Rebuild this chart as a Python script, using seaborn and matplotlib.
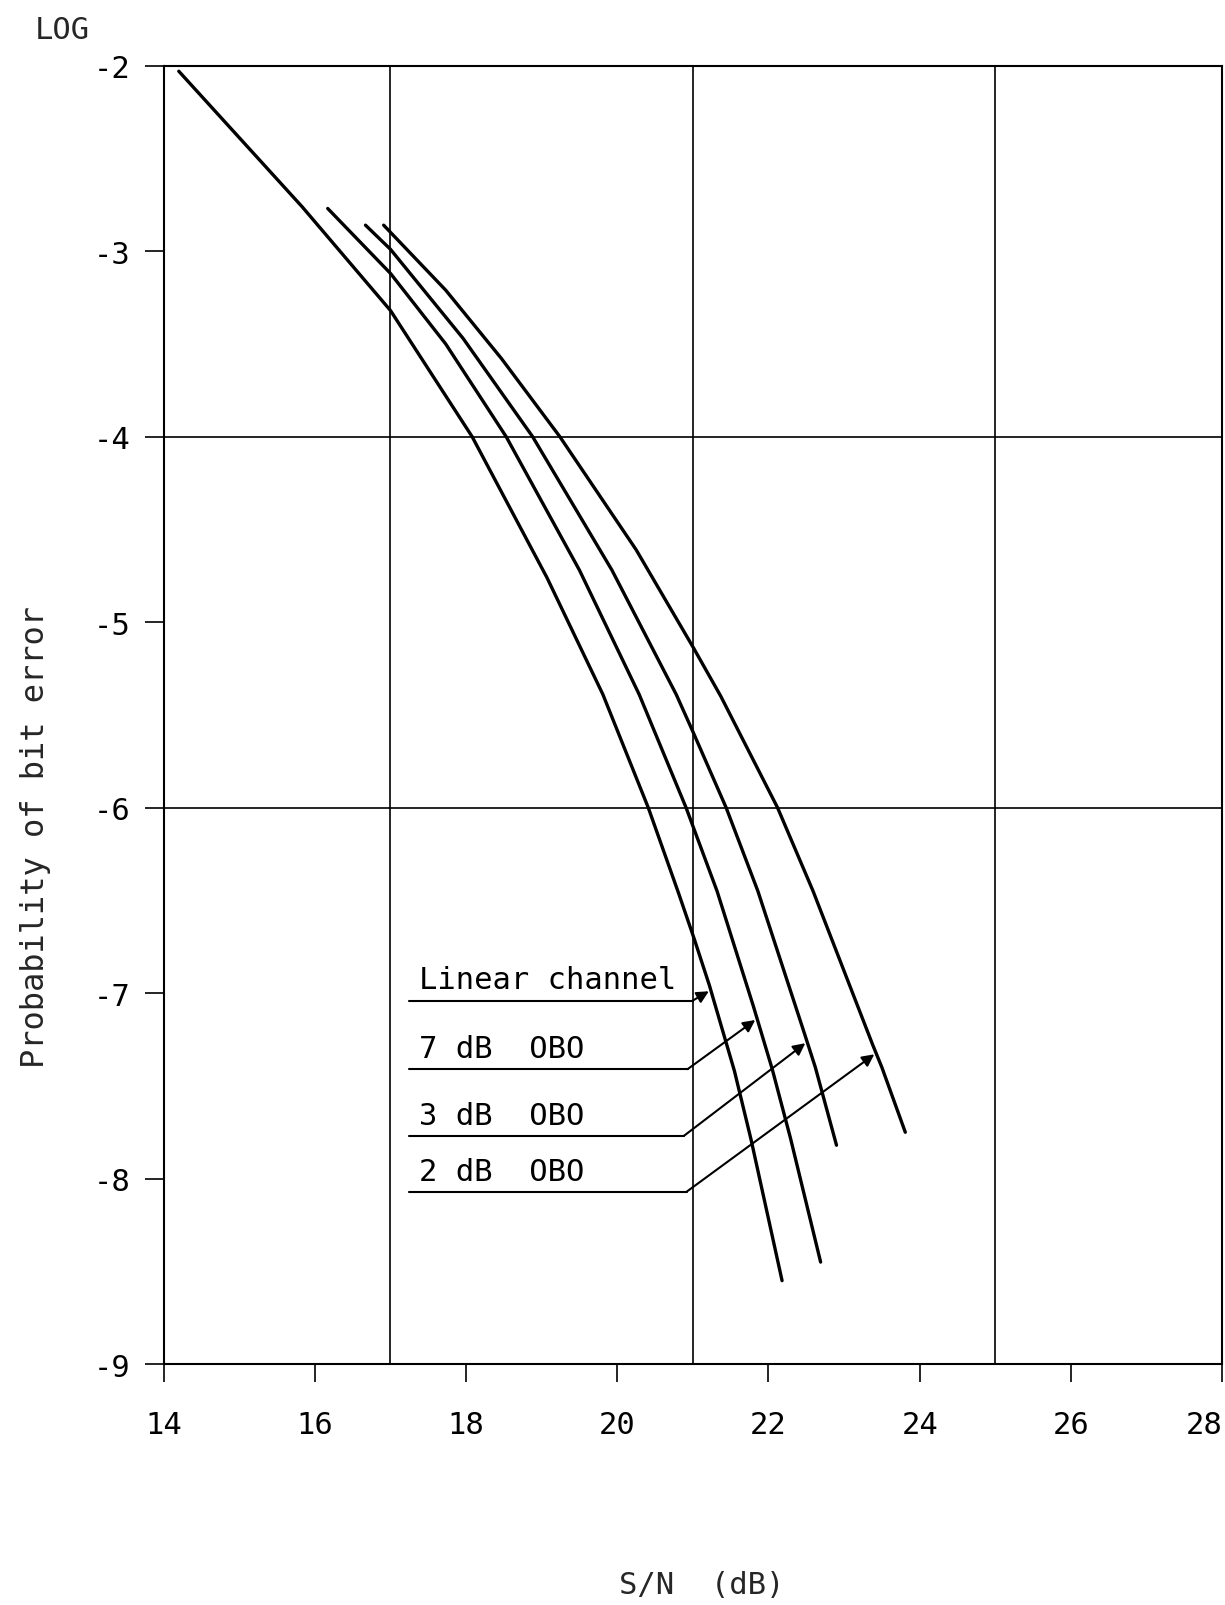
import numpy as np
import pandas as pd
import matplotlib
matplotlib.use("Agg")
import matplotlib.pyplot as plt
import seaborn as sns

# ---------------- data ----------------
sn_linear = [14.2, 15.83, 17.0, 18.08, 19.07, 19.81, 20.41, 20.81, 21.02, 21.22, 21.55, 21.77, 22.18]
ber_linear = [-2.03, -2.76, -3.32, -4.0, -4.76, -5.39, -6.0, -6.46, -6.71, -6.96, -7.42, -7.79, -8.55]

sn_7db = [16.17, 17.0, 17.73, 18.53, 19.50, 20.29, 20.91, 21.32, 21.80, 22.05, 22.29, 22.69]
ber_7db = [-2.77, -3.12, -3.50, -4.0, -4.72, -5.39, -6.0, -6.45, -7.07, -7.41, -7.78, -8.45]

sn_3db = [16.67, 17.0, 17.96, 18.88, 19.93, 20.78, 21.0, 21.44, 21.86, 22.47, 22.62, 22.90]
ber_3db = [-2.86, -2.99, -3.47, -4.0, -4.72, -5.39, -5.59, -6.0, -6.45, -7.21, -7.40, -7.82]

sn_2db = [16.91, 17.73, 18.47, 19.24, 20.25, 21.01, 21.37, 22.12, 22.59, 23.38, 23.50, 23.81]
ber_2db = [-2.86, -3.21, -3.58, -4.0, -4.61, -5.14, -5.40, -6.0, -6.45, -7.28, -7.40, -7.75]

curve_names = ["Linear channel", "7 dB  OBO", "3 dB  OBO", "2 dB  OBO"]
x_ticks = [14, 16, 18, 20, 22, 24, 26, 28]
x_tick_labels = ["14", "16", "18", "20", "22", "24", "26", "28"]
y_ticks = [-2, -3, -4, -5, -6, -7, -8, -9]
y_tick_labels = ["-2", "-3", "-4", "-5", "-6", "-7", "-8", "-9"]
x_grid = [17, 21, 25]
y_grid = [-4, -6]

# ---------------- frame ----------------
frames = []
for name, xs, ys in zip(curve_names,
                        [sn_linear, sn_7db, sn_3db, sn_2db],
                        [ber_linear, ber_7db, ber_3db, ber_2db]):
    frames.append(pd.DataFrame({"sn": xs, "ber": ys, "curve": name}))
df = pd.concat(frames, ignore_index=True)

sns.set_style("white")
plt.rcParams["font.family"] = ["DejaVu Sans Mono", "DejaVu Sans"]
plt.rcParams["axes.unicode_minus"] = False

fig = plt.figure(figsize=(12.25, 16.06), dpi=100)
ax = fig.add_axes([0.1336, 0.150, 0.8640, 0.8085])

sns.lineplot(data=df, x="sn", y="ber", hue="curve", units="curve",
             estimator=None, sort=False, palette=["black"] * 4,
             linewidth=2.4, legend=False, ax=ax)
for ln in ax.get_lines():
    ln.set_solid_joinstyle("round")
    ln.set_solid_capstyle("round")

for gx in x_grid:
    ax.axvline(gx, color="black", lw=1.2, zorder=1)
for gy in y_grid:
    ax.axhline(gy, color="black", lw=1.2, zorder=1)

ax.set_xlim(14, 28)
ax.set_ylim(-9, -2)
ax.set_xticks(x_ticks)
ax.set_xticklabels(x_tick_labels, fontsize=22)
ax.set_yticks(y_ticks)
ax.set_yticklabels(y_tick_labels, fontsize=22)
ax.xaxis.get_ticklabels()[-1].set_horizontalalignment("right")
ax.tick_params(axis="x", direction="out", length=13, width=1.2, pad=20,
               bottom=True, colors="black")
ax.tick_params(axis="y", direction="out", length=14, width=1.2, pad=10,
               left=True, colors="black")
ax.set_xlabel("")
ax.set_ylabel("")
for s in ax.spines.values():
    s.set_visible(True)
    s.set_color("black")
    s.set_linewidth(1.5)

# ---------------- legend leaders ----------------
curve_data = [(sn_linear, ber_linear), (sn_7db, ber_7db),
              (sn_3db, ber_3db), (sn_2db, ber_2db)]
underline_y = [-7.04, -7.41, -7.77, -8.07]
underline_x0 = 17.25
underline_x1 = [21.0, 20.93, 20.88, 20.92]
tip_y = [-6.99, -7.145, -7.27, -7.33]
for name, (xs, ys), uy, ux1, ty in zip(curve_names, curve_data,
                                       underline_y, underline_x1, tip_y):
    tx = np.interp(ty, ys[::-1], xs[::-1]) - 0.03
    ax.plot([underline_x0, ux1], [uy, uy], color="black", lw=1.5)
    ax.annotate("", xy=(tx, ty), xytext=(ux1, uy),
                arrowprops=dict(arrowstyle="-|>", color="black", lw=1.5,
                                mutation_scale=18, shrinkA=0, shrinkB=0))
    ax.text(17.38, uy + 0.065, name, fontsize=22, ha="left", va="baseline",
            color="black")

# ---------------- outer texts ----------------
fig.text(0.0286, 0.981, "LOG", fontsize=22, ha="left", va="center")
fig.text(0.029, 0.479, "Probability of bit error", fontsize=23,
         rotation=90, ha="center", va="center")
fig.text(0.573, 0.0125, "S/N  (dB)", fontsize=22, ha="center", va="center")

fig.savefig("out.png", dpi=100, facecolor="white")
